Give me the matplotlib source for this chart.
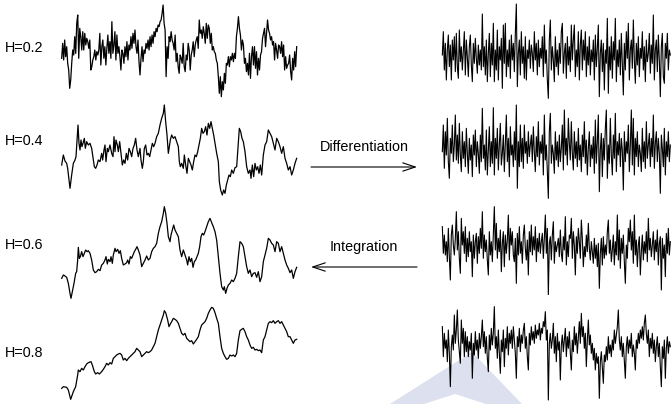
import numpy as np
import matplotlib
matplotlib.use("Agg")
import matplotlib.pyplot as plt

plt.rcParams['font.family'] = ['Liberation Sans', 'DejaVu Sans']

# --- data (time, level) in picture units, level grows downward ---
labels = ['H=0.2', 'H=0.4', 'H=0.6', 'H=0.8']

# fBm H=0.2, evenly sampled
fbm02 = [175,130,180,120,170,140,190,210,265,240,190,150,165,110,160,70,45,175,85,110,
         150,95,150,100,135,115,125,145,120,210,200,180,170,150,180,155,165,150,100,195,
         140,120,175,140,195,145,105,160,125,175,65,160,135,95,180,105,160,140,170,210,
         150,160,190,140,170,125,180,135,150,110,145,100,130,90,140,160,120,185,225,175,
         140,185,150,160,130,145,120,150,110,140,105,130,95,110,85,95,75,80,65,60,
         40,15,70,90,230,140,175,110,125,95,120,130,150,105,185,160,200,220,165,175,
         190,130,200,215,165,180,130,150,210,165,150,125,170,135,120,110,145,60,100,90,
         115,80,100,130,70,115,75,85,130,100,150,140,155,160,180,190,230,280,230,290,
         245,270,220,250,190,195,170,200,170,180,160,185,160,175,110,85,50,85,105,150,
         120,135,190,175,215,190,225,160,235,170,140,195,140,205,155,225,175,210,165,155,
         115,100,85,140,100,60,90,100,120,110,135,125,180,130,150,175,135,140,160,125,
         170,135,210,170,205,195,190,165,215,240,175,210,155,200,140]

fbm04 = [(20,210),(25,180),(30,198),(35,205),(38,220),(42,255),(45,280),(50,240),(55,205),(60,195),
         (63,185),(66,140),(69,90),(72,145),(75,165),(78,135),(81,155),(84,145),(88,130),(91,160),
         (95,140),(100,150),(105,145),(110,160),(115,195),(118,215),(122,220),(126,210),(130,195),(135,200),
         (140,175),(143,195),(147,165),(150,150),(153,200),(157,160),(160,170),(165,150),(170,175),(174,185),
         (177,125),(180,170),(183,135),(187,150),(190,170),(194,140),(198,175),(202,210),(206,195),(210,205),
         (214,175),(218,195),(222,160),(226,170),(230,185),(234,160),(238,150),(242,130),(246,165),(250,185),
         (255,160),(258,195),(262,220),(265,200),(268,160),(272,150),(276,180),(280,175),(284,185),(288,165),
         (292,145),(296,155),(300,145),(305,125),(310,115),(315,90),(320,70),(325,55),(328,30),(332,80),
         (336,120),(340,175),(343,155),(346,135),(350,120),(355,130),(360,125),(365,140),(370,155),(373,200),
         (376,215),(380,205),(385,220),(388,180),(392,210),(396,235),(400,190),(404,200),(408,210),(412,225),
         (416,200),(420,180),(424,185),(428,170),(432,150),(436,130),(440,100),(444,115),(448,110),(452,95),
         (456,120),(460,85),(464,100),(468,80),(472,100),(476,120),(480,145),(485,175),(490,200),(493,260),
         (497,285),(502,300),(506,285),(510,295),(514,270),(518,255),(522,240),(526,245),(530,225),(535,235),
         (540,218),(545,215),(550,140),(553,100),(557,110),(561,130),(565,140),(570,170),(575,215),(580,235),
         (585,225),(588,250),(592,210),(596,245),(600,205),(604,225),(608,215),(612,235),(616,210),(620,240),
         (625,180),(630,150),(635,140),(640,105),(645,115),(650,125),(655,145),(660,165),(665,130),(670,140),
         (675,155),(680,175),(685,155),(690,190),(695,205),(700,225),(705,215),(710,240),(715,225),(720,205),
         (725,190)]

fbm06 = [(20,265),(25,255),(30,258),(35,262),(40,280),(45,310),(48,325),(52,305),(57,280),(62,250),
         (65,245),(68,210),(70,172),(73,205),(76,200),(80,185),(84,200),(88,190),(92,180),(96,185),
         (100,182),(105,190),(110,210),(115,240),(120,248),(125,245),(130,238),(135,242),(140,225),(145,220),
         (150,210),(153,200),(157,222),(160,208),(165,215),(168,200),(172,220),(175,195),(180,175),(183,185),
         (188,178),(192,190),(196,182),(200,205),(205,225),(210,222),(215,218),(218,210),(222,222),(226,200),
         (230,205),(234,195),(238,185),(242,178),(246,170),(250,180),(255,195),(260,230),(265,220),(270,210),
         (275,198),(280,210),(285,205),(290,185),(295,175),(300,170),(305,160),(310,130),(315,110),(320,95),
         (325,70),(328,50),(332,70),(336,100),(340,140),(345,155),(348,135),(352,120),(356,105),(360,120),
         (365,130),(370,140),(375,180),(380,200),(385,180),(390,195),(395,210),(398,225),(402,200),(406,215),
         (410,205),(414,232),(418,215),(422,210),(426,200),(430,190),(434,170),(438,140),(442,130),(446,135),
         (450,125),(455,110),(460,95),(465,85),(470,98),(475,110),(480,125),(485,150),(490,200),(495,250),
         (500,290),(505,300),(508,290),(512,310),(516,295),(520,285),(525,280),(530,270),(535,275),(540,265),
         (545,250),(550,200),(555,155),(560,160),(565,170),(570,200),(575,230),(580,250),(585,240),(590,260),
         (595,250),(600,248),(605,262),(610,245),(615,275),(620,260),(625,215),(630,195),(635,175),(640,145),
         (645,150),(650,160),(655,165),(660,185),(665,155),(670,160),(675,185),(680,170),(685,190),(690,210),
         (695,225),(700,235),(705,248),(710,240),(715,265),(720,245),(725,232)]

fbm08 = [(20,295),(25,290),(35,292),(40,300),(47,328),(55,305),(62,290),(68,255),(70,240),(75,245),
         (80,235),(85,240),(90,230),(95,222),(100,218),(108,215),(112,225),(118,245),(122,252),(128,248),
         (133,252),(140,245),(145,238),(150,230),(155,220),(160,225),(165,218),(170,222),(175,205),(180,200),
         (185,195),(190,192),(195,190),(200,195),(205,210),(210,205),(215,212),(220,205),(225,200),(230,195),
         (235,190),(240,185),(245,175),(250,180),(255,185),(260,200),(265,195),(270,190),(275,185),(280,188),
         (285,185),(290,180),(295,170),(300,160),(305,140),(310,120),(315,105),(320,90),(325,75),(328,62),
         (332,68),(338,90),(342,110),(346,102),(350,95),(355,85),(360,88),(365,92),(370,100),(375,115),
         (380,130),(385,135),(390,130),(395,145),(400,150),(405,155),(410,152),(415,162),(420,155),(425,148),
         (430,140),(435,120),(440,105),(445,100),(450,95),(455,85),(460,70),(465,60),(470,52),(475,55),
         (480,68),(485,85),(490,100),(495,140),(500,175),(505,190),(510,200),(515,208),(520,205),(525,195),
         (530,198),(535,195),(540,200),(545,190),(550,150),(555,122),(560,118),(565,115),(570,125),(575,140),
         (580,150),(585,165),(590,175),(595,172),(600,180),(605,178),(610,182),(615,180),(620,188),(625,150),
         (630,140),(635,120),(640,100),(645,95),(650,98),(655,92),(660,100),(665,95),(670,92),(675,100),
         (680,95),(685,105),(690,115),(695,125),(700,140),(705,140),(710,150),(715,160),(720,150),(725,148)]

# fGn (increments), evenly sampled
fgn02 = [165,95,210,130,240,150,105,200,135,240, 120,180,110,215,100,200,235,90,185,140,
         210,150,95,225,120,170,230,140,105,195, 245,130,190,115,175,220,135,195,150,210,
         42,200,140,225,120,245,160,100,230,130, 195,70,245,150,210,90,240,140,180,115,
         265,75,190,70,230,150,200,120,235,105, 180,130,215,100,12,260,160,120,225,95,
         190,140,235,110,240,150,175,120,205,135, 160,215,95,180,130,225,120,200,145,175,
         110,230,75,190,150,240,295,120,60,210, 140,180,245,110,200,150,225,130,190,95,
         70,220,160,130,235,110,195,140,215,75, 180,120,75,230,150,200,95,240,135,90,
         210,120,180,95,230,140,195,110,225,150, 185,120,240,105,200,145,75,290,160,120,
         215,130,270,150,190,55,280,140,210,110, 235,125,180,55,245,150,200,120,225,100,
         190,285,130,210,95,175,70,240,150,120, 205,60,180,250,130,195,110,230,145,175,
         95,210,140,245,120,185,160,100,220,135, 190,45,240,150,120,215,105,180,290,140,
         100,230,250,130,175,100,210,150,165]

fgn04 = [170,90,220,110,180,70,200,250,130,175, 90,200,150,60,195,120,205,85,180,230,
         110,190,140,215,100,175,235,130,195,150, 245,120,180,105,215,140,175,235,120,200,
         40,190,150,225,105,240,165,95,215,140, 205,38,240,130,190,100,225,150,85,210,
         175,120,230,140,60,200,130,245,95,180, 150,215,110,195,30,280,140,215,90,200,
         130,220,90,175,140,205,110,185,150,120, 200,95,170,230,125,185,80,210,140,175,
         120,240,60,195,150,230,310,110,55,205, 150,175,235,110,195,140,215,120,200,160,
         90,225,45,180,130,210,70,145,195,80, 175,225,110,190,140,215,100,195,150,230,
         120,185,80,205,135,240,160,110,215,150, 190,125,235,75,205,140,60,290,165,115,
         245,130,195,100,45,250,150,205,70,180, 240,120,190,55,230,140,180,115,215,130,
         165,285,110,200,140,175,90,230,150,45, 210,70,240,130,185,110,215,150,175,230,
         100,200,140,220,80,190,150,115,215,130, 185,60,220,145,110,200,130,175,295,120,
         160,215,100,240,140,185,110,200,150]

fgn06 = [95,175,120,180,140,200,100,185,255,120, 90,150,180,130,50,165,110,190,235,70,
         150,110,175,95,200,130,185,110,170,140, 245,120,190,140,115,205,125,175,100,160,
         50,190,120,170,135,195,240,110,180,140, 200,115,35,165,85,190,130,170,105,230,
         145,110,215,120,175,135,60,195,100,150, 110,180,200,130,265,115,180,95,175,140,
         205,120,90,160,195,135,240,110,170,90, 180,125,165,95,200,130,170,115,175,140,
         115,190,130,60,175,100,300,145,125,195, 120,80,205,140,170,150,130,185,105,175,
         200,125,165,65,210,140,185,120,130,70, 190,110,150,240,125,175,100,140,190,75,
         130,215,155,185,120,170,85,160,195,140, 170,205,130,190,150,215,145,280,175,130,
         210,125,190,150,180,110,75,175,135,200, 165,120,210,140,180,60,195,105,220,130,
         175,120,200,265,150,190,100,140,75,165, 110,205,60,180,135,215,150,125,240,170,
         120,195,140,175,110,200,70,165,130,185, 150,110,195,135,170,105,210,145,125,285,
         130,190,150,245,115,175,100,180,140]

fgn08 = [110,200,130,175,150,215,120,190,290,170, 135,180,75,160,120,60,150,185,220,90,
         160,115,200,125,185,140,200,155,180,130, 265,160,195,125,180,150,205,130,175,140,
         90,170,125,190,140,205,245,135,180,115, 165,130,50,175,140,205,120,190,250,150,
         185,120,230,145,175,110,195,130,160,120, 175,110,150,190,265,140,170,115,185,135,
         160,120,100,175,140,200,240,130,165,110, 150,125,160,105,145,120,135,100,150,115,
         130,95,110,65,150,120,330,160,130,175, 150,100,190,140,215,130,180,155,270,165,
         135,185,150,115,200,140,175,125,190,240, 150,185,110,165,130,190,140,95,160,70,
         140,110,175,130,230,150,90,165,135,190, 160,210,175,240,190,220,200,325,215,185,
         230,280,195,215,170,210,140,190,165,200, 150,180,120,160,135,110,60,150,180,140,
         200,160,215,265,170,140,190,150,175,130, 200,165,190,240,150,175,130,160,120,145,
         110,150,100,75,130,160,120,200,145,175, 130,190,150,215,170,140,200,160,230,290,
         170,205,150,265,175,140,190,155,170]

left_series = [fbm02, fbm04, fbm06, fbm08]
right_series = [fgn02, fgn04, fgn06, fgn08]

# --- layout (pixels of a 671x404 canvas) ---
W, H = 671, 404
fig = plt.figure(figsize=(6.71, 4.04), dpi=100)

base = fig.add_axes([0, 0, 1, 1])
base.set_xlim(0, W)
base.set_ylim(H, 0)
base.axis('off')

# faint watermark shape at the bottom
base.fill([390, 472, 522], [404, 352, 404], color='#dde0ee', lw=0, zorder=0)
base.fill([424, 455, 486], [404, 394, 404], color='white', lw=0, zorder=0)

def panel(x0, y0, w, h):
    ax = fig.add_axes([x0 / W, 1 - (y0 + h) / H, w / W, h / H])
    ax.set_xlim(0, 3 * w)
    ax.set_ylim(3 * h, 0)
    ax.axis('off')
    ax.patch.set_alpha(0)
    return ax

left_boxes = [(55, 0, 250, 105), (55, 95, 250, 105), (55, 190, 250, 110), (55, 290, 250, 114)]
right_boxes = [(435, 0, 236, 105), (435, 95, 236, 105), (435, 195, 236, 100), (435, 290, 236, 114)]
label_y = [48, 141, 245, 353]

for k in range(4):
    ax = panel(*left_boxes[k])
    s = left_series[k]
    if isinstance(s[0], tuple):
        t, v = zip(*s)
    else:
        v = s
        t = np.linspace(20, 725, len(s))
    ax.plot(t, v, color='black', lw=0.9)

    ax = panel(*right_boxes[k])
    v = right_series[k]
    t = 22 + 3 * np.arange(len(v))
    ax.plot(t, v, color='black', lw=0.8)

    base.text(5, label_y[k], labels[k], fontsize=10.4, ha='left', va='center')

# arrows between the two columns
base.text(364, 147, 'Differentiation', fontsize=10.4, ha='center', va='center')
base.annotate('', xy=(417, 167), xytext=(311, 167),
              arrowprops=dict(arrowstyle='->,head_length=0.9,head_width=0.3', lw=0.8,
                              color='black', shrinkA=0, shrinkB=0, mutation_scale=10))
base.text(364, 247, 'Integration', fontsize=10.4, ha='center', va='center')
base.annotate('', xy=(311, 267), xytext=(417, 267),
              arrowprops=dict(arrowstyle='->,head_length=0.9,head_width=0.3', lw=0.8,
                              color='black', shrinkA=0, shrinkB=0, mutation_scale=10))

fig.savefig('out.png', dpi=100)
